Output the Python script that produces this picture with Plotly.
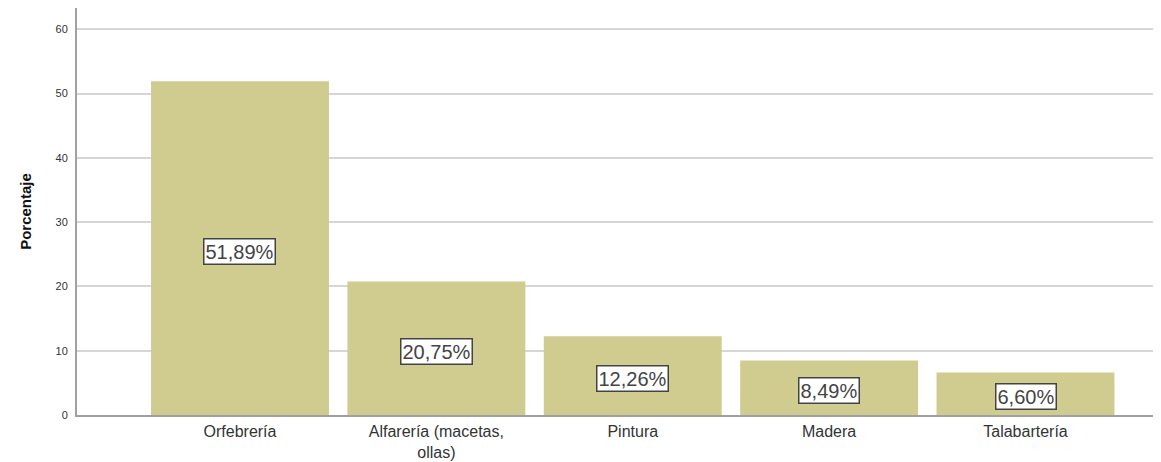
import plotly.graph_objects as go

categories = ["Orfebrería", "Alfarería (macetas,<br>ollas)", "Pintura", "Madera", "Talabartería"]
values = [51.89, 20.75, 12.26, 8.49, 6.60]
value_labels = ["51,89%", "20,75%", "12,26%", "8,49%", "6,60%"]
y_ticks = [0, 10, 20, 30, 40, 50, 60]

fig = go.Figure()
fig.add_trace(go.Bar(
    x=list(range(len(categories))),
    y=values,
    marker=dict(color="#d0cb8e", line=dict(width=0)),
    width=0.906,
    hoverinfo="skip",
))

for i, (v, lab) in enumerate(zip(values, value_labels)):
    fig.add_annotation(
        x=i, y=v / 2, xref="x", yref="y",
        text=lab, showarrow=False,
        font=dict(family="Liberation Sans, Arial", size=20, color="#444444"),
        bgcolor="white", bordercolor="#444444", borderwidth=1.5, borderpad=1,
        yshift=-3,
    )

# the page body adds an 8px offset, so the figure is sized to end at the window edge
fig.update_layout(
    width=1153, height=454,
    margin=dict(l=69, r=0, t=0, b=47),
    paper_bgcolor="white", plot_bgcolor="white",
    showlegend=False,
    font=dict(family="Liberation Sans, Arial", color="#333333"),
)
fig.update_xaxes(
    range=[-0.83, 4.69], automargin=False,
    tickmode="array", tickvals=list(range(len(categories))), ticktext=categories,
    tickfont=dict(size=16, color="#333333"),
    ticklabelstandoff=1,
    showline=True, linecolor="#a0a0a0", linewidth=2,
    showgrid=False, zeroline=False, ticks="", ticklen=0,
)
fig.update_yaxes(
    range=[0, 63.3], automargin=False,
    tickmode="array", tickvals=y_ticks,
    tickfont=dict(size=11, color="#333333"),
    ticklabelstandoff=5,
    showline=True, linecolor="#a0a0a0", linewidth=2,
    showgrid=True, gridcolor="#d6d6d6", gridwidth=1.5,
    zeroline=False, ticks="", ticklen=0,
    title=dict(text="<b>Porcentaje</b>", font=dict(size=15, color="#111111"), standoff=20),
)

fig.write_html("out.html")
